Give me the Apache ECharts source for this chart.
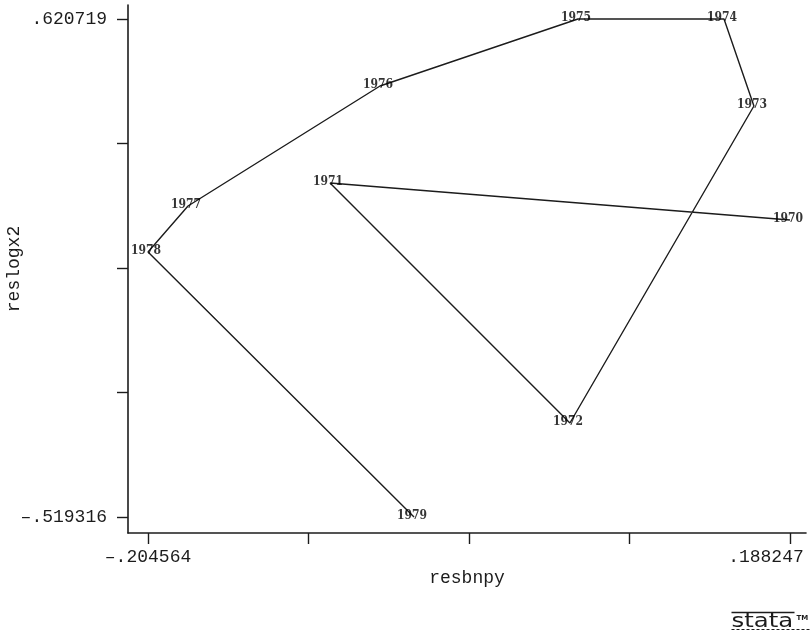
<!DOCTYPE html>
<html>
<head>
<meta charset="utf-8">
<script src="https://cdn.jsdelivr.net/npm/echarts@6/dist/echarts.min.js"></script>
<style>
  html, body { margin: 0; padding: 0; background: #ffffff; }
  #chart { width: 812px; height: 632px; }
</style>
</head>
<body>
<div id="chart"></div>
<script>
// Residual of log(x2) against residual of bnpy, one point per year, connected in time order
const years = ['1970', '1971', '1972', '1973', '1974', '1975', '1976', '1977', '1978', '1979'];
const resbnpy = [0.188247, -0.0932, 0.0536, 0.1662, 0.1479, 0.0585, -0.0626, -0.1801, -0.204564, -0.0418];
const reslogx2 = [0.1606, 0.2453, -0.3041, 0.4216, 0.620719, 0.6207, 0.4673, 0.1926, 0.0873, -0.519316];

// Axis tick positions: the data range split in four, only the ends labelled
const xTickEnds = [-0.204564, 0.188247];
const yTickEnds = [-0.519316, 0.620719];
const xTickLabels = ['\u2013.204564', '.188247'];
const yTickLabels = ['\u2013.519316', '.620719'];

function quarters(ends) {
  const step = (ends[1] - ends[0]) / 4;
  return [0, 1, 2, 3, 4].map(i => ends[0] + step * i);
}
const xTicks = quarters(xTickEnds);
const yTicks = quarters(yTickEnds);

const xSpan = xTickEnds[1] - xTickEnds[0];
const ySpan = yTickEnds[1] - yTickEnds[0];

const points = resbnpy.map((x, i) => [x, reslogx2[i]]);

const tickFont = 'Liberation Mono';
const ink = '#1c1c1c';

const chart = echarts.init(document.getElementById('chart'), null, { renderer: 'canvas' });

chart.setOption({
  animation: false,
  backgroundColor: '#ffffff',
  grid: { left: 128, right: 6, top: 5, bottom: 99, containLabel: false, outerBoundsMode: 'none' },
  xAxis: {
    type: 'value',
    min: xTickEnds[0] - xSpan * 0.0312,
    max: xTickEnds[1] + xSpan * 0.0250,
    name: 'resbnpy',
    nameLocation: 'middle',
    nameGap: 36,
    nameMoveOverlap: false,
    nameTextStyle: { fontFamily: tickFont, fontSize: 18, color: ink },
    axisLine: { show: true, onZero: false, lineStyle: { color: ink, width: 1.6 } },
    axisTick: { show: true, inside: false, length: 11, customValues: xTicks, lineStyle: { color: ink, width: 1.4 } },
    axisLabel: {
      show: true,
      margin: 15,
      customValues: xTickEnds,
      fontFamily: tickFont,
      fontSize: 18,
      color: ink,
      formatter: v => {
        const i = xTickEnds.findIndex(t => Math.abs(t - v) < 1e-6);
        if (i === 1) return '{r|' + xTickLabels[1] + '}';
        return i >= 0 ? xTickLabels[i] : '';
      },
      rich: { r: { fontFamily: tickFont, fontSize: 18, color: ink, padding: [0, 48, 0, 0] } }
    },
    splitLine: { show: false }
  },
  yAxis: {
    type: 'value',
    min: yTickEnds[0] - ySpan * 0.0321,
    max: yTickEnds[1] + ySpan * 0.0281,
    name: 'reslogx2',
    nameLocation: 'middle',
    nameGap: 105,
    nameRotate: 90,
    nameMoveOverlap: false,
    nameTextStyle: { fontFamily: tickFont, fontSize: 18, color: ink },
    axisLine: { show: true, onZero: false, lineStyle: { color: ink, width: 1.6 } },
    axisTick: { show: true, inside: false, length: 11, customValues: yTicks, lineStyle: { color: ink, width: 1.4 } },
    axisLabel: {
      show: true,
      margin: 21,
      customValues: yTickEnds,
      fontFamily: tickFont,
      fontSize: 18,
      color: ink,
      formatter: v => {
        const i = yTickEnds.findIndex(t => Math.abs(t - v) < 1e-6);
        return i >= 0 ? yTickLabels[i] : '';
      }
    },
    splitLine: { show: false }
  },
  series: [
    {
      type: 'line',
      data: points,
      showSymbol: false,
      symbol: 'none',
      lineStyle: { color: ink, width: 1.4 },
      z: 2
    },
    {
      type: 'scatter',
      data: points,
      symbol: 'circle',
      symbolSize: 1,
      itemStyle: { color: 'transparent' },
      label: {
        show: true,
        position: 'inside',
        offset: [-2, -1],
        formatter: p => years[p.dataIndex],
        fontFamily: '"DejaVu Serif Condensed", "DejaVu Serif"',
        fontWeight: 'bold',
        fontSize: 12,
        color: '#000000'
      },
      z: 3
    }
  ],
  graphic: [
    {
      type: 'group',
      left: 729,
      top: 610,
      children: [
        { type: 'line', shape: { x1: 1, y1: 2, x2: 64, y2: 2 }, style: { stroke: ink, lineWidth: 1.3 } },
        { type: 'text', x: 1, y: 21, scaleX: 1.22, style: { text: 'stata', font: '20px "DejaVu Sans"', fill: ink, verticalAlign: 'bottom' } },
        { type: 'text', x: 66, y: 4, style: { text: 'TM', font: 'bold 7px "DejaVu Sans"', fill: ink } },
        { type: 'line', shape: { x1: 1, y1: 19, x2: 81, y2: 19 }, style: { stroke: ink, lineWidth: 1, lineDash: [3, 2] } }
      ]
    }
  ]
});
</script>
</body>
</html>
